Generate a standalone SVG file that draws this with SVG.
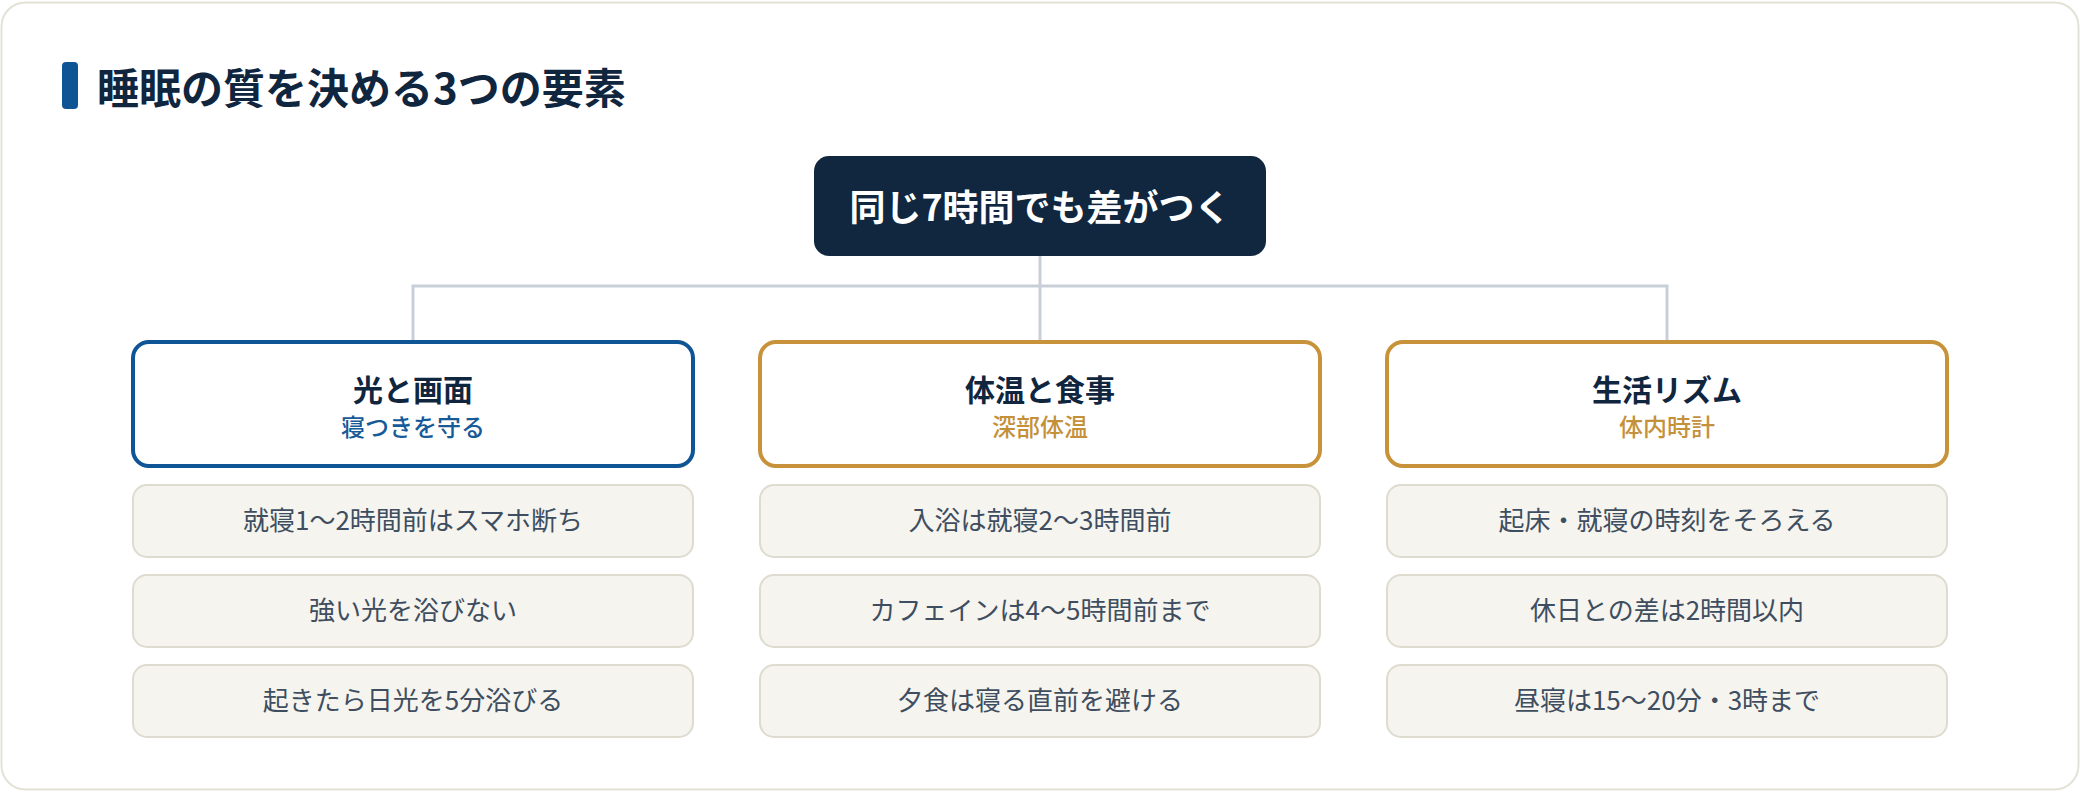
<svg xmlns="http://www.w3.org/2000/svg" width="2080" height="792" viewBox="0 0 2080 792">
<style>
.t{font-family:"Noto Sans CJK JP","Noto Sans",sans-serif;}
.title{font-size:42px;font-weight:700;fill:#10263f;}
.root{font-size:36px;font-weight:700;fill:#ffffff;text-anchor:middle;}
.head{fill:#ffffff;stroke-width:4;}
.blue{stroke:#0f5596;}
.gold{stroke:#c8923a;}
.hl{font-size:30px;font-weight:700;fill:#10263f;text-anchor:middle;}
.sub{font-size:24px;font-weight:500;text-anchor:middle;}
.sb{fill:#165a97;}
.sg{fill:#c4913a;}
.item{fill:#f6f4ef;stroke:#dedbcf;stroke-width:2;}
.it{font-size:26px;font-weight:400;fill:#3e4e60;text-anchor:middle;}
.conn{stroke:#c9cfd8;stroke-width:3;fill:none;}
</style>
<rect x="1.5" y="2.5" width="2077" height="787" rx="24" fill="#ffffff" stroke="#e4e2d6" stroke-width="2"/>
<g id="title">
<rect x="62" y="62" width="16" height="47" rx="4" fill="#0f5596"/>
<text class="t title" x="97" y="104">睡眠の質を決める3つの要素</text>
</g>
<g id="connectors">
<path class="conn" d="M1040 256V342M413 286H1667M413 284.5V342M1667 284.5V342"/>
</g>
<g id="root">
<rect x="814" y="156" width="452" height="100" rx="15" fill="#10273f"/>
<text class="t root" x="1040" y="221">同じ7時間でも差がつく</text>
</g>
<g id="light">
<rect class="head blue" x="133" y="342" width="560" height="124" rx="16"/>
<text class="t hl" x="413" y="401">光と画面</text>
<text class="t sub sb" x="413" y="436">寝つきを守る</text>
</g>
<g id="light-1"><rect class="item" x="133" y="485" width="560" height="72" rx="14"/><text class="t it" x="413" y="530">就寝1〜2時間前はスマホ断ち</text></g>
<g id="light-2"><rect class="item" x="133" y="575" width="560" height="72" rx="14"/><text class="t it" x="413" y="620">強い光を浴びない</text></g>
<g id="light-3"><rect class="item" x="133" y="665" width="560" height="72" rx="14"/><text class="t it" x="413" y="710">起きたら日光を5分浴びる</text></g>
<g id="temp">
<rect class="head gold" x="760" y="342" width="560" height="124" rx="16"/>
<text class="t hl" x="1040" y="401">体温と食事</text>
<text class="t sub sg" x="1040" y="436">深部体温</text>
</g>
<g id="temp-1"><rect class="item" x="760" y="485" width="560" height="72" rx="14"/><text class="t it" x="1040" y="530">入浴は就寝2〜3時間前</text></g>
<g id="temp-2"><rect class="item" x="760" y="575" width="560" height="72" rx="14"/><text class="t it" x="1040" y="620">カフェインは4〜5時間前まで</text></g>
<g id="temp-3"><rect class="item" x="760" y="665" width="560" height="72" rx="14"/><text class="t it" x="1040" y="710">夕食は寝る直前を避ける</text></g>
<g id="rhythm">
<rect class="head gold" x="1387" y="342" width="560" height="124" rx="16"/>
<text class="t hl" x="1667" y="401">生活リズム</text>
<text class="t sub sg" x="1667" y="436">体内時計</text>
</g>
<g id="rhythm-1"><rect class="item" x="1387" y="485" width="560" height="72" rx="14"/><text class="t it" x="1667" y="530">起床・就寝の時刻をそろえる</text></g>
<g id="rhythm-2"><rect class="item" x="1387" y="575" width="560" height="72" rx="14"/><text class="t it" x="1667" y="620">休日との差は2時間以内</text></g>
<g id="rhythm-3"><rect class="item" x="1387" y="665" width="560" height="72" rx="14"/><text class="t it" x="1667" y="710">昼寝は15〜20分・3時まで</text></g>
</svg>
